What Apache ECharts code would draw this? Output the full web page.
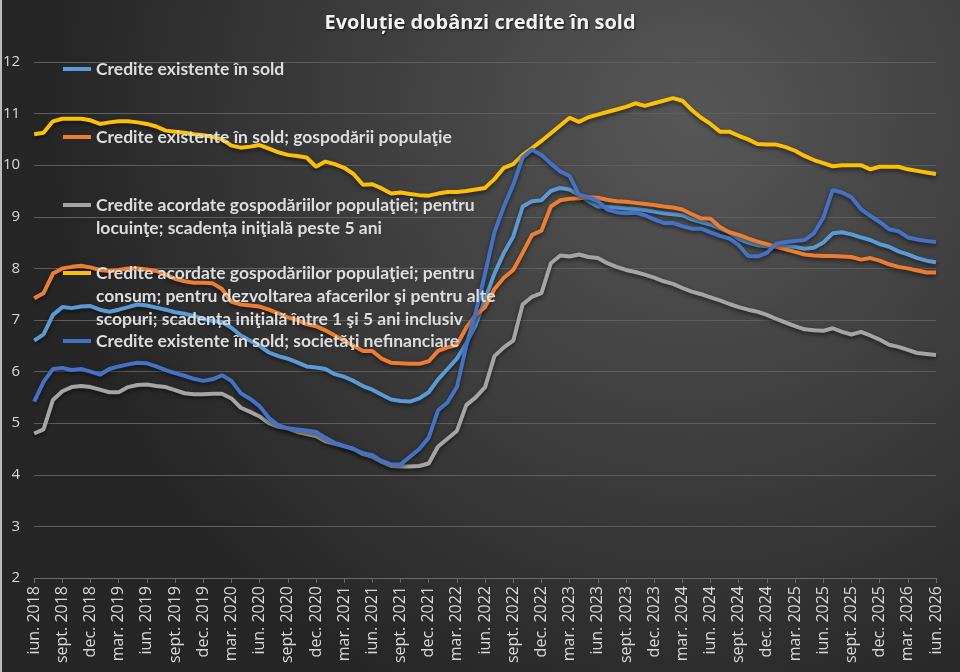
<!DOCTYPE html>
<html>
<head>
<meta charset="utf-8">
<title>Evoluție dobânzi credite în sold</title>
<script src="https://cdn.jsdelivr.net/npm/echarts@6/dist/echarts.min.js"></script>
<style>
  html, body { margin: 0; padding: 0; background: #2b2b2b; }
  #chart { width: 960px; height: 672px; }
</style>
</head>
<body>
<div id="chart"></div>
<script>
// luni: iun. 2018 ... iun. 2026
var numeLuni = ['ian.', 'feb.', 'mar.', 'apr.', 'mai', 'iun.', 'iul.', 'aug.', 'sept.', 'oct.', 'nov.', 'dec.'];
var luni = [];
for (var an = 2018; an <= 2026; an++) {
  for (var m = 0; m < 12; m++) {
    if ((an == 2018 && m < 5) || (an == 2026 && m > 5)) continue;
    luni.push(numeLuni[m] + ' ' + an);
  }
}

// Credite existente în sold (total)
var existente = [
  6.6, 6.72, 7.1, 7.25, 7.23, 7.26, 7.27, 7.2, 7.16, 7.2,
  7.25, 7.3, 7.28, 7.24, 7.2, 7.15, 7.12, 7.08, 7.02, 6.98,
  6.96, 6.85, 6.7, 6.6, 6.5, 6.37, 6.3, 6.25, 6.18, 6.1,
  6.08, 6.05, 5.95, 5.9, 5.82, 5.72, 5.65, 5.55, 5.46, 5.43,
  5.42, 5.48, 5.6, 5.85, 6.05, 6.25, 6.55, 6.9, 7.4, 7.9,
  8.3, 8.62, 9.2, 9.3, 9.32, 9.5, 9.56, 9.53, 9.42, 9.3,
  9.2, 9.19, 9.18, 9.16, 9.15, 9.13, 9.1, 9.07, 9.05, 9.03,
  8.95, 8.9, 8.85, 8.77, 8.7, 8.57, 8.5, 8.45, 8.43, 8.43,
  8.43, 8.42, 8.38, 8.4, 8.5, 8.68, 8.7, 8.66, 8.6, 8.55,
  8.47, 8.42, 8.33, 8.27, 8.2, 8.15, 8.12
];
// gospodării populaţie
var gospodarii = [
  7.42, 7.52, 7.9, 8.0, 8.03, 8.05, 8.02, 7.97, 7.95, 7.97,
  8.0, 8.0, 7.98, 7.95, 7.88, 7.8, 7.75, 7.72, 7.72, 7.71,
  7.6, 7.35, 7.3, 7.28, 7.26, 7.2, 7.13, 7.05, 7.0, 6.92,
  6.88, 6.8, 6.7, 6.6, 6.5, 6.4, 6.4, 6.25, 6.17, 6.16,
  6.15, 6.15, 6.2, 6.4, 6.47, 6.52, 6.85, 7.1, 7.25, 7.6,
  7.82, 7.97, 8.3, 8.65, 8.73, 9.2, 9.32, 9.35, 9.36, 9.38,
  9.37, 9.33, 9.3, 9.29, 9.27, 9.25, 9.23, 9.2, 9.18, 9.14,
  9.05, 8.97, 8.96, 8.8, 8.7, 8.65, 8.58, 8.52, 8.47, 8.42,
  8.37, 8.32, 8.27, 8.25, 8.24, 8.24, 8.23, 8.22, 8.17, 8.2,
  8.15, 8.08, 8.03, 8.0, 7.96, 7.92, 7.92
];
// locuinţe, peste 5 ani
var locuinte = [
  4.8, 4.88, 5.45, 5.62, 5.7, 5.72, 5.7, 5.65, 5.6, 5.6,
  5.7, 5.74, 5.75, 5.72, 5.7, 5.64, 5.58, 5.56, 5.56, 5.57,
  5.57, 5.48, 5.3, 5.22, 5.13, 5.0, 4.93, 4.9, 4.83, 4.79,
  4.75, 4.65, 4.6, 4.55, 4.5, 4.4, 4.35, 4.25, 4.17, 4.16,
  4.16, 4.17, 4.22, 4.55, 4.7, 4.85, 5.35, 5.5, 5.7, 6.3,
  6.47, 6.6, 7.3, 7.45, 7.52, 8.1, 8.25, 8.23, 8.27, 8.22,
  8.2, 8.1, 8.03, 7.97, 7.93, 7.88, 7.82, 7.75, 7.7, 7.62,
  7.55, 7.5, 7.44, 7.38, 7.31, 7.25, 7.2, 7.16, 7.1, 7.02,
  6.95, 6.88, 6.82, 6.8, 6.79, 6.84, 6.77, 6.72, 6.77, 6.7,
  6.62, 6.52, 6.48, 6.42, 6.36, 6.34, 6.32
];
// consum, 1-5 ani
var consum = [
  10.6, 10.63, 10.85, 10.9, 10.9, 10.9, 10.87, 10.8, 10.83, 10.85,
  10.85, 10.83, 10.8, 10.75, 10.67, 10.65, 10.63, 10.6, 10.58, 10.55,
  10.5, 10.38, 10.34, 10.36, 10.39, 10.32, 10.25, 10.2, 10.18, 10.15,
  9.97, 10.07, 10.02, 9.95, 9.83, 9.62, 9.63, 9.55, 9.45, 9.47,
  9.44, 9.42, 9.41, 9.45, 9.48, 9.48, 9.5, 9.53, 9.56, 9.73,
  9.95, 10.02, 10.2, 10.33, 10.47, 10.62, 10.77, 10.92, 10.84, 10.93,
  10.98, 11.03, 11.08, 11.13, 11.2, 11.15, 11.2, 11.25, 11.3, 11.25,
  11.07, 10.92, 10.8, 10.65, 10.65, 10.57, 10.5, 10.41, 10.4, 10.4,
  10.35, 10.28, 10.18, 10.1, 10.04, 9.98, 10.0, 10.0, 10.0, 9.92,
  9.97, 9.97, 9.97, 9.92, 9.89, 9.86, 9.83
];
// societăţi nefinanciare
var nefinanciare = [
  5.42, 5.8, 6.05, 6.07, 6.03, 6.05, 6.0, 5.94, 6.05, 6.1,
  6.14, 6.17, 6.16, 6.1, 6.03, 5.97, 5.92, 5.86, 5.82, 5.85,
  5.93, 5.82, 5.58, 5.47, 5.33, 5.1, 4.96, 4.9, 4.88, 4.86,
  4.83, 4.72, 4.62, 4.56, 4.5, 4.42, 4.38, 4.27, 4.2, 4.2,
  4.35, 4.5, 4.72, 5.25, 5.4, 5.7, 6.5, 7.15, 7.9, 8.7,
  9.2, 9.62, 10.15, 10.3, 10.2, 10.03, 9.88, 9.79, 9.43, 9.38,
  9.3, 9.14, 9.09, 9.07, 9.08, 9.03, 8.95, 8.88, 8.88, 8.82,
  8.77, 8.77, 8.7, 8.63, 8.58, 8.45, 8.24, 8.23, 8.3, 8.48,
  8.51, 8.53, 8.55, 8.68, 8.98, 9.52, 9.47, 9.38, 9.15, 9.02,
  8.9, 8.76, 8.72, 8.6, 8.56, 8.53, 8.51
];

var numeSerii = [
  'Credite existente în sold',
  'Credite existente în sold; gospodării populaţie',
  'Credite acordate gospodăriilor populaţiei; pentru locuinţe; scadența iniţială peste 5 ani',
  'Credite acordate gospodăriilor populaţiei; pentru consum; pentru dezvoltarea afacerilor şi pentru alte scopuri; scadența iniţială între 1 şi 5 ani inclusiv',
  'Credite existente în sold; societăţi nefinanciare'
];
// cum apar rândurile în legendă
var randuriLegenda = [
  ['Credite existente în sold'],
  ['Credite existente în sold; gospodării populaţie'],
  ['Credite acordate gospodăriilor populaţiei; pentru', 'locuinţe; scadența iniţială peste 5 ani'],
  ['Credite acordate gospodăriilor populaţiei; pentru', 'consum; pentru dezvoltarea afacerilor şi pentru alte', 'scopuri; scadența iniţială între 1 şi 5 ani inclusiv'],
  ['Credite existente în sold; societăţi nefinanciare']
];
var culori = ['#5b9bd5', '#ed7d31', '#a5a5a5', '#ffc000', '#4472c4'];
var valori = [existente, gospodarii, locuinte, consum, nefinanciare];

var chart = echarts.init(document.getElementById('chart'));

var lh = 23;
var legendTop = [69, 137, 205, 273, 341]; // primul rând al fiecărei intrări
var legende = numeSerii.map(function (nume, i) {
  var k = randuriLegenda[i].length;
  return {
    data: [{ name: nume, icon: 'rect' }],
    orient: 'vertical',
    left: 63,
    top: legendTop[i] - (k - 1) * lh - lh / 2,
    padding: 0,
    itemWidth: 28,
    itemHeight: 4,
    selectedMode: false,
    formatter: function () {
      // rânduri goale deasupra, ca marcajul să stea în dreptul primului rând
      var pad = [];
      for (var j = 1; j < k; j++) pad.push(' ');
      return pad.concat(randuriLegenda[i]).join('\n');
    },
    textStyle: {
      color: '#dedede',
      fontSize: 17.5,
      fontWeight: 'bold',
      fontFamily: 'Lato',
      lineHeight: lh
    }
  };
});

var serii = numeSerii.map(function (nume, i) {
  return {
    name: nume,
    type: 'line',
    data: valori[i],
    symbol: 'none',
    showSymbol: false,
    color: culori[i],
    lineStyle: {
      width: 4,
      color: culori[i],
      shadowColor: 'rgba(0,0,0,0.55)',
      shadowBlur: 4,
      shadowOffsetY: 2
    },
    emphasis: { disabled: true }
  };
});

var option = {
  backgroundColor: {
    type: 'radial', x: 0.72, y: 0.18, r: 0.95,
    colorStops: [
      { offset: 0, color: '#575757' },
      { offset: 1, color: '#262626' }
    ]
  },
  animation: false,
  title: {
    text: 'Evoluție dobânzi credite în sold',
    left: 'center',
    top: 8,
    textStyle: {
      color: '#f2f2f2',
      fontSize: 20,
      fontWeight: 'bold',
      fontFamily: 'Open Sans',
      textShadowColor: 'rgba(0,0,0,0.7)',
      textShadowBlur: 2,
      textShadowOffsetX: 1,
      textShadowOffsetY: 1
    }
  },
  legend: legende,
  graphic: [
    { type: 'rect', left: 0, top: 0, shape: { width: 2, height: 672 }, style: { fill: '#bdbdbd' } }
  ],
  grid: { left: 34, right: 24, top: 62, bottom: 94, containLabel: false },
  xAxis: {
    type: 'category',
    data: luni,
    boundaryGap: false,
    axisLine: { lineStyle: { color: '#6a6a6a', width: 1 } },
    axisTick: { show: true, interval: 2, length: 5, lineStyle: { color: '#6a6a6a' } },
    axisLabel: {
      interval: 2,
      rotate: 90,
      color: '#d9d9d9',
      fontSize: 16,
      fontFamily: 'Open Sans',
      margin: 8
    },
    splitLine: { show: false }
  },
  yAxis: {
    type: 'value',
    min: 2,
    max: 12,
    interval: 1,
    axisLine: { show: false },
    axisTick: { show: false },
    axisLabel: { color: '#d9d9d9', fontSize: 15, fontFamily: 'Open Sans', margin: 14 },
    splitLine: { lineStyle: { color: '#5e5e5e', width: 1 } }
  },
  series: serii
};

chart.setOption(option);
</script>
</body>
</html>
